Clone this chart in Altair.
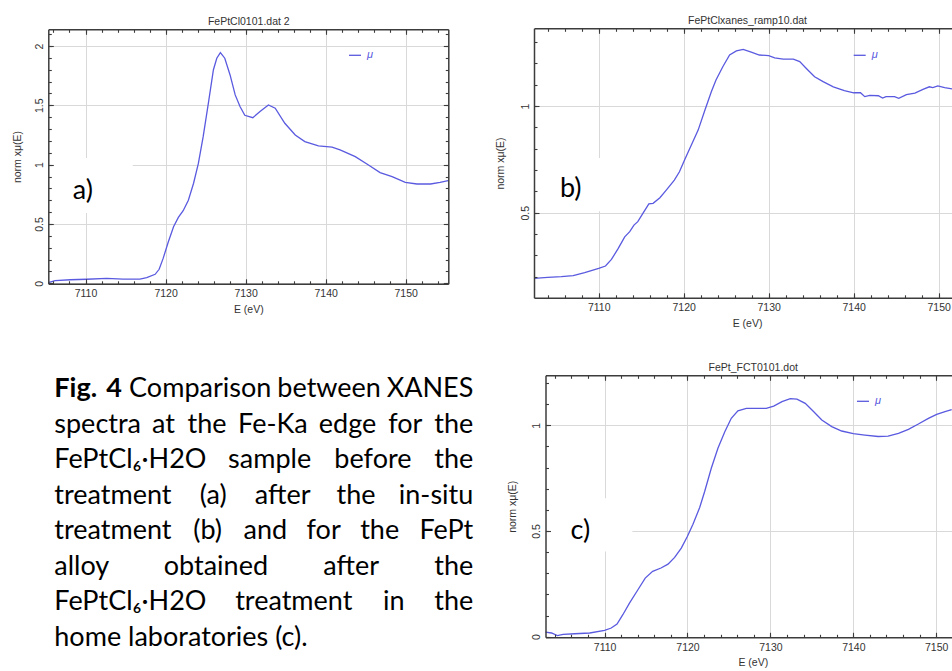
import altair as alt
import pandas as pd

W, H = 952, 671
FONT = "Liberation Sans"
CAP_FONT = "Lato"
INK = "#333333"
FRAME = "#3c3c3c"
GRID = "#d9d9d9"
BLUE = "#5a5ae0"

# ---------------- data ----------------
E_a = [7105.35, 7106.2, 7108.1, 7110.15, 7112.65, 7114.7, 7116.8, 7117.65, 7118.7, 7119.2,
       7119.7, 7120.35, 7121.0, 7121.6, 7122.2, 7122.85, 7123.5, 7124.1, 7124.7, 7125.35,
       7125.98, 7126.4, 7126.85, 7127.4, 7128.06, 7128.7, 7129.3, 7129.9, 7130.9, 7131.8,
       7132.85, 7133.7, 7134.9, 7136.2, 7137.4, 7139.1, 7140.8, 7141.8, 7143.7, 7145.35,
       7146.8, 7148.3, 7149.95, 7151.4, 7153.1, 7154.3, 7155.3]
mu_a = [0.005, 0.022, 0.030, 0.034, 0.042, 0.036, 0.036, 0.047, 0.076, 0.118,
        0.21, 0.35, 0.477, 0.556, 0.612, 0.70, 0.843, 1.01, 1.236, 1.518,
        1.80, 1.897, 1.944, 1.897, 1.756, 1.588, 1.49, 1.416, 1.396, 1.447,
        1.503, 1.476, 1.349, 1.25, 1.194, 1.158, 1.147, 1.124, 1.068, 0.997,
        0.933, 0.899, 0.85, 0.837, 0.837, 0.85, 0.865]

E_b = [7102.4, 7104.0, 7105.6, 7107.0, 7108.35, 7110.0, 7110.8, 7111.5, 7112.3, 7113.06,
       7113.65, 7114.15, 7114.6, 7115.2, 7115.9, 7116.4, 7117.2, 7117.95, 7118.9, 7119.5,
       7120.1, 7120.9, 7121.7, 7122.5, 7123.25, 7123.8, 7124.6, 7125.4, 7126.2, 7127.0,
       7127.95, 7128.9, 7130.0, 7130.7, 7131.7, 7132.9, 7133.65, 7134.4, 7135.4, 7136.4,
       7137.6, 7138.9, 7140.0, 7140.8, 7141.3, 7141.9, 7142.9, 7143.4, 7143.8, 7144.8,
       7145.3, 7146.2, 7147.2, 7148.15, 7148.9, 7149.3, 7149.9, 7150.7, 7151.6]
mu_b = [0.192, 0.197, 0.200, 0.205, 0.219, 0.239, 0.25, 0.281, 0.333, 0.387,
        0.411, 0.442, 0.458, 0.497, 0.541, 0.544, 0.570, 0.606, 0.653, 0.692,
        0.747, 0.817, 0.887, 0.981, 1.067, 1.122, 1.184, 1.239, 1.258, 1.265,
        1.252, 1.239, 1.236, 1.226, 1.22, 1.22, 1.208, 1.177, 1.137, 1.114,
        1.09, 1.072, 1.062, 1.062, 1.044, 1.05, 1.048, 1.037, 1.044, 1.044,
        1.036, 1.053, 1.06, 1.078, 1.09, 1.086, 1.094, 1.086, 1.08]

E_c = [7102.87, 7103.6, 7104.3, 7105.0, 7106.4, 7108.2, 7110.0, 7110.8, 7111.5, 7112.2,
       7113.0, 7114.0, 7114.9, 7115.8, 7116.8, 7117.65, 7118.45, 7119.25, 7119.98, 7120.66,
       7121.47, 7122.07, 7122.87, 7123.67, 7124.5, 7125.28, 7126.08, 7127.1, 7128.2, 7129.5,
       7130.4, 7131.4, 7132.4, 7133.2, 7134.2, 7135.2, 7136.2, 7137.4, 7138.6, 7140.0,
       7141.4, 7143.0, 7144.2, 7145.45, 7146.65, 7147.85, 7149.06, 7150.06, 7151.06, 7151.87]
mu_c = [0.022, 0.0175, 0.005, 0.011, 0.014, 0.0175, 0.030, 0.041, 0.060, 0.104,
        0.159, 0.221, 0.277, 0.309, 0.325, 0.343, 0.375, 0.419, 0.474, 0.532,
        0.611, 0.687, 0.797, 0.891, 0.97, 1.033, 1.068, 1.080, 1.080, 1.080,
        1.091, 1.112, 1.126, 1.124, 1.104, 1.065, 1.025, 0.994, 0.973, 0.961,
        0.954, 0.947, 0.949, 0.962, 0.981, 1.006, 1.033, 1.052, 1.065, 1.074]

TITLES = ["FePtCl0101.dat 2", "FePtClxanes_ramp10.dat", "FePt_FCT0101.dot"]
PANEL_LABELS = ["a)", "b)", "c)"]
SERIES = "μ"
X_TITLE = "E (eV)"
Y_TITLE = "norm xμ(E)"

X_MAJOR = [7110, 7120, 7130, 7140, 7150]
Y_MAJOR_A = [0, 0.5, 1, 1.5, 2]
Y_MAJOR_B = [0.5, 1]
Y_MAJOR_C = [0, 0.5, 1]
X_MINOR_A = list(range(7106, 7156, 2))
X_MINOR_BC = list(range(7104, 7154, 2))
Y_MINOR_A = [round(0.1 * i, 1) for i in range(0, 22)]
Y_MINOR_B = [round(0.1 * i, 1) for i in range(2, 14)]
Y_MINOR_C = [round(0.1 * i, 1) for i in range(0, 13)]

CAPTION_BOLD = "Fig. 4"
CAPTION_LINES = [
    "Fig. 4 Comparison between XANES",
    "spectra at the Fe-Ka edge for the",
    "FePtCl₆·H2O sample before the",
    "treatment (a) after the in-situ",
    "treatment (b) and for the FePt",
    "alloy obtained after the",
    "FePtCl₆·H2O treatment in the",
    "home laboratories (c).",
]

# ---------------- layout helpers ----------------
# rough advance widths (em) used only to spread the justified caption words
ADV = {' ': 0.226, 'a': 0.479, 'b': 0.525, 'c': 0.423, 'd': 0.525, 'e': 0.498, 'f': 0.305,
       'g': 0.471, 'h': 0.525, 'i': 0.229, 'l': 0.229, 'm': 0.799, 'n': 0.525, 'o': 0.527,
       'p': 0.525, 'r': 0.349, 's': 0.391, 't': 0.335, 'u': 0.525, 'w': 0.715, 'y': 0.453,
       'A': 0.579, 'C': 0.533, 'E': 0.488, 'F': 0.459, 'H': 0.623, 'K': 0.520, 'N': 0.646,
       'O': 0.662, 'P': 0.517, 'S': 0.459, 'X': 0.519, '2': 0.507, '4': 0.507, '(': 0.303,
       ')': 0.303, '.': 0.252, '-': 0.306, '·': 0.252, '₆': 0.33}
CAP_SIZE = 27
CAP_LEFT, CAP_RIGHT = 54.3, 473.3
CAP_BASE, CAP_STEP = 397.0, 35.5


def word_w(w, bold=False):
    em = 0.0
    for ch in w:
        k = 1.17 if ch.isupper() else (1.1 if ch.isdigit() else 1.045)
        em += ADV.get(ch, 0.5) * k
    return em * CAP_SIZE * (1.05 if bold else 1.0)


def lin(v1, p1, v2, p2, p):
    return v1 + (p - p1) * (v2 - v1) / (p2 - p1)


def geom(xref, frame_x, yref, frame_y):
    (v1, p1), (v2, p2) = xref
    (w1, q1), (w2, q2) = yref
    return dict(
        xdom=[lin(v1, p1, v2, p2, frame_x[0]), lin(v1, p1, v2, p2, frame_x[1])],
        xrng=list(frame_x),
        ydom=[lin(w1, q1, w2, q2, frame_y[0]), lin(w1, q1, w2, q2, frame_y[1])],
        yrng=list(frame_y),
    )


G_A = geom(((7110, 85.5), (7150, 405.7)), (48.3, 448.3), ((0, 283.3), (2, 46.0)), (283.8, 29.3))
G_B = geom(((7110, 598.7), (7150, 938.7)), (534.0, 960.0), ((0.5, 212.7), (1, 106.0)), (297.8, 28.3))
G_C = geom(((7110, 604.6), (7150, 936.2)), (545.5, 960.0), ((0, 636.7), (1, 425.3)), (637.3, 375.3))

LAB_STYLE = dict(labelFont=FONT, labelFontSize=10.5, labelColor=INK)
TIT_STYLE = dict(titleFont=FONT, titleFontSize=10.5, titleFontWeight="normal", titleColor=INK)


def tick_axis(orient, offset, values, size, domain=False):
    return alt.Axis(orient=orient, offset=offset, values=values, grid=False, ticks=True,
                    tickSize=size, tickColor=FRAME, tickWidth=1.1, labels=False,
                    domain=domain, domainColor=FRAME, domainWidth=1.5, title=None, zindex=2)


def panel(E, MU, G, title, y_major, x_minor, y_minor, ytitle_pad, leg, label, box, label_pos):
    df = pd.DataFrame({"E": E, "mu": MU, "series": [SERIES] * len(E)})
    xs = alt.Scale(domain=G["xdom"], range=G["xrng"], nice=False, zero=False)
    ys = alt.Scale(domain=G["ydom"], range=G["yrng"], nice=False, zero=False)
    x0, x1 = G["xrng"]
    yb, yt = G["yrng"]
    base = alt.Chart(df)
    layers = []

    # grid + top frame + panel title
    layers.append(base.mark_line(strokeOpacity=0).encode(
        x=alt.X("E:Q", scale=xs, axis=alt.Axis(
            orient="top", offset=-yt, values=X_MAJOR, grid=True, gridColor=GRID, gridWidth=1,
            ticks=False, tickSize=0, labels=False, domain=True, domainColor=FRAME, domainWidth=1.5,
            title=title, titlePadding=3, zindex=0, **TIT_STYLE)),
        y=alt.Y("mu:Q", scale=ys, axis=alt.Axis(
            orient="left", offset=-x0, values=y_major, grid=True, gridColor=GRID, gridWidth=1,
            ticks=False, tickSize=0, labels=False, domain=False, title=None, zindex=0)),
    ))

    # spectrum with labelled axes (bottom and left frame)
    layers.append(base.mark_line(strokeWidth=1.3).encode(
        x=alt.X("E:Q", scale=xs, axis=alt.Axis(
            orient="bottom", offset=yb - H, values=X_MAJOR, format="d", grid=False,
            ticks=False, tickSize=0, domain=True, domainColor=FRAME, domainWidth=1.5,
            labelPadding=5, labelFlush=False, labelOverlap=False,
            title=X_TITLE, titlePadding=5, zindex=1, **LAB_STYLE, **TIT_STYLE)),
        y=alt.Y("mu:Q", scale=ys, axis=alt.Axis(
            orient="left", offset=-x0, values=y_major, format="~g", grid=False,
            ticks=False, tickSize=0, domain=True, domainColor=FRAME, domainWidth=1.5,
            labelAngle=270, labelAlign="center", labelBaseline="bottom", labelPadding=4,
            labelFlush=False, labelOverlap=False,
            title=Y_TITLE, titlePadding=ytitle_pad, zindex=1, **LAB_STYLE, **TIT_STYLE)),
        color=alt.Color("series:N", scale=alt.Scale(domain=[SERIES], range=[BLUE]),
                        legend=alt.Legend(orient="none", legendX=leg[0], legendY=leg[1], title=None,
                                          symbolType="stroke", symbolSize=144, symbolStrokeWidth=1.3,
                                          labelFont=FONT, labelFontSize=11, labelFontStyle="italic",
                                          labelColor=BLUE, labelOffset=5, padding=0)),
    ))

    # inward ticks on bottom & left frame (major, minor)
    for xv, yv, sz in ((X_MAJOR, y_major, 5), (x_minor, y_minor, 3)):
        layers.append(base.mark_line(strokeOpacity=0).encode(
            x=alt.X("E:Q", scale=xs, axis=tick_axis("top", -yb, xv, sz)),
            y=alt.Y("mu:Q", scale=ys, axis=tick_axis("right", x0 - W, yv, sz)),
        ))
    # inward ticks on top & right frame (+ right frame line)
    for xv, yv, sz in ((X_MAJOR, y_major, 5), (x_minor, y_minor, 3)):
        layers.append(base.mark_line(strokeOpacity=0).encode(
            x=alt.X("E:Q", scale=xs, axis=tick_axis("bottom", yt - H, xv, sz)),
            y=alt.Y("mu:Q", scale=ys, axis=tick_axis("left", -x1, yv, sz, domain=(sz == 5))),
        ))

    # panel label in a white box
    box_df = pd.DataFrame({"x0": [box[0]], "x1": [box[1]], "y0": [box[2]], "y1": [box[3]]})
    layers.append(alt.Chart(box_df).mark_rect(color="white").encode(
        x=alt.X("x0:Q", scale=xs, axis=None), x2="x1:Q",
        y=alt.Y("y0:Q", scale=ys, axis=None), y2="y1:Q"))
    lab_df = pd.DataFrame({"E": [label_pos[0]], "mu": [label_pos[1]], "t": [label]})
    layers.append(alt.Chart(lab_df).mark_text(font=CAP_FONT, fontSize=27, color="black",
                                              align="center", baseline="middle").encode(
        x=alt.X("E:Q", scale=xs, axis=None), y=alt.Y("mu:Q", scale=ys, axis=None), text="t:N"))
    return layers


layers = []
layers += panel(E_a, mu_a, G_A, TITLES[0], Y_MAJOR_A, X_MINOR_A, Y_MINOR_A, 12, (348, 48.3),
                PANEL_LABELS[0], (7105.6, 7115.9, 0.593, 1.057), (7109.66, 0.782))
layers += panel(E_b, mu_b, G_B, TITLES[1], Y_MAJOR_B, X_MINOR_BC, Y_MINOR_B, 15, (852.7, 48.3),
                PANEL_LABELS[1], (7102.6, 7112.5, 0.507, 0.756), (7106.7, 0.611))
layers += panel(E_c, mu_c, G_C, TITLES[2], Y_MAJOR_C, X_MINOR_BC, Y_MINOR_C, 14, (856, 394.3),
                PANEL_LABELS[2], (7103.0, 7113.35, 0.403, 0.655), (7107.07, 0.502))

# ---------------- caption (justified like the original) ----------------
rows = {("left", "bold"): [], ("center", "bold"): [], ("left", "normal"): [],
        ("center", "normal"): [], ("right", "normal"): []}
n_bold = len(CAPTION_BOLD.split(" "))
for i, line in enumerate(CAPTION_LINES):
    yy = CAP_BASE + CAP_STEP * i
    if i == len(CAPTION_LINES) - 1:
        rows[("left", "normal")].append({"w": line, "x": CAP_LEFT, "y": yy})
        continue
    words = line.split(" ")
    bolds = [(i == 0 and j < n_bold) for j in range(len(words))]
    widths = [word_w(w, b) for w, b in zip(words, bolds)]
    gap = (CAP_RIGHT - CAP_LEFT - sum(widths)) / (len(words) - 1)
    xpos = CAP_LEFT
    for j, (w, ww, b) in enumerate(zip(words, widths, bolds)):
        weight = "bold" if b else "normal"
        if j == 0:
            rows[("left", weight)].append({"w": w, "x": xpos, "y": yy})
        elif j == len(words) - 1:
            rows[("right", weight)].append({"w": w, "x": CAP_RIGHT, "y": yy})
        else:
            rows[("center", weight)].append({"w": w, "x": xpos + ww / 2, "y": yy})
        xpos += ww + gap

px_x = alt.Scale(domain=[0, W], range=[0, W], nice=False, zero=False)
px_y = alt.Scale(domain=[0, H], range=[0, H], nice=False, zero=False)

for (align, weight), rr in rows.items():
    if not rr:
        continue
    layers.append(alt.Chart(pd.DataFrame(rr)).mark_text(
        font=CAP_FONT, fontSize=CAP_SIZE, fontWeight=weight, color="black",
        align=align, baseline="alphabetic").encode(
        x=alt.X("x:Q", scale=px_x, axis=None), y=alt.Y("y:Q", scale=px_y, axis=None), text="w:N"))

chart = alt.layer(*layers).resolve_scale(
    x="independent", y="independent", color="independent"
).resolve_axis(x="independent", y="independent").resolve_legend(color="independent").properties(
    width=W, height=H, padding=0, autosize=alt.AutoSizeParams(type="none"), background="white"
).configure_view(stroke=None)

chart.save("out.html", embed_options={"renderer": "svg", "actions": False})
